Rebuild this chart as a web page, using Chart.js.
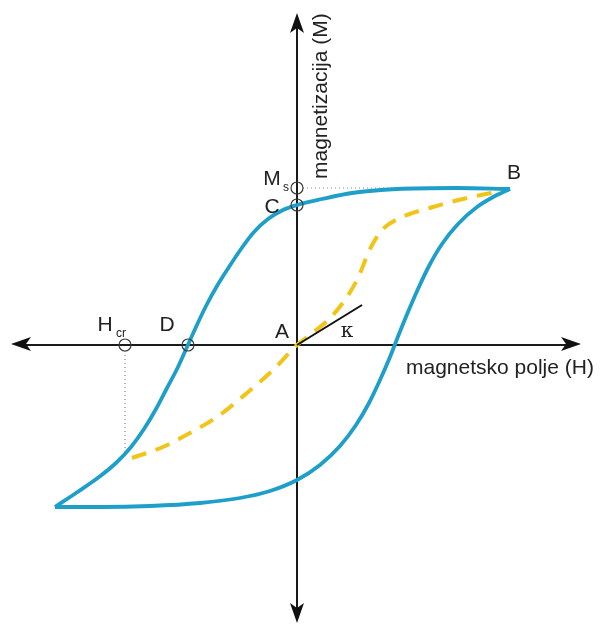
<!DOCTYPE html>
<html>
<head>
<meta charset="utf-8">
<script src="https://cdn.jsdelivr.net/npm/chart.js@4"></script>
<style>
  html, body { margin: 0; padding: 0; background: #fff; }
  #wrap { width: 603px; height: 627px; }
</style>
</head>
<body>
<div id="wrap"><canvas id="chart"></canvas></div>
<script>
// units: one unit = one pixel, origin A where the axes cross
const loopDownX = [213, 160, 100, 55, 25, 0, -14, -29, -43, -56, -68, -80, -91, -101, -110, -119, -130, -141, -153, -166, -181, -198, -218, -242];
const loopDownY = [156, 157, 156, 152, 146, 140, 135, 126, 113, 96, 78, 59, 39, 18, -2, -22, -43, -64, -84, -102, -118, -132, -146, -162];
const loopUpX = [-242, -197, -147, -97, -57, -27, 0, 23, 43, 59, 72, 83, 93, 102, 111, 121, 132, 145, 161, 180, 198, 213];
const loopUpY = [-162, -162, -161, -158, -153, -146, -135, -120, -101, -80, -58, -35, -12, 11, 33, 56, 79, 101, 121, 138, 149, 156];
const virginX = [-165, -134, -107, -80, -50, -24, 0, 10, 36, 60, 73, 85, 103, 136, 170, 210];
const virginY = [-113, -102, -88, -72, -48, -25, 0, 8, 30, 65, 96, 115, 127, 138, 147, 155];
const kappaX = [0, 65];
const kappaY = [0, 40];
const markX = [0, 0, -109, -172];   // Ms, C, D, Hcr
const markY = [157, 140, 0, 0];
const msDotX = [6, 208];
const msDotY = [157, 157];
const hcrDotX = [-172, -172];
const hcrDotY = [-6, -113];
const axisHX = [-280, 278];
const axisHY = [0, 0];
const axisVX = [0, 0];
const axisVY = [326, -272];
const arrowX = [-276, 274, 0, 0];
const arrowY = [1, 1, 322, -268];
const arrowRot = [180, 0, -90, 90];

const labels = [
  { t: 'B', x: 217, y: 172, size: 21 },
  { t: 'C', x: -25, y: 138, size: 21 },
  { t: 'M', x: -25, y: 166, size: 21 },
  { t: 's', x: -11, y: 157, size: 12 },
  { t: 'A', x: -15, y: 13, size: 21 },
  { t: 'D', x: -130, y: 20, size: 21 },
  { t: 'H', x: -192, y: 20, size: 21 },
  { t: 'cr', x: -176, y: 11, size: 12 },
  { t: 'κ', x: 50, y: 13, size: 20, font: 'DejaVu Serif' }
];

function pts(xs, ys) {
  return xs.map((x, i) => ({ x: x, y: ys[i] }));
}

// arrow head used as point style
const head = document.createElement('canvas');
head.width = 20;
head.height = 14;
const hc = head.getContext('2d');
hc.fillStyle = '#111';
hc.beginPath();
hc.moveTo(20, 7);
hc.lineTo(0, 0);
hc.lineTo(5, 7);
hc.lineTo(0, 14);
hc.closePath();
hc.fill();

const textPlugin = {
  id: 'texts',
  afterDatasetsDraw(chart) {
    const ctx = chart.ctx;
    const sx = chart.scales.x, sy = chart.scales.y;
    ctx.save();
    ctx.fillStyle = '#222';
    ctx.textAlign = 'center';
    ctx.textBaseline = 'middle';
    labels.forEach(l => {
      ctx.font = l.size + 'px ' + (l.font || '"Liberation Sans", Arial, sans-serif');
      ctx.fillText(l.t, sx.getPixelForValue(l.x), sy.getPixelForValue(l.y));
    });
    ctx.font = '21px "Liberation Sans", Arial, sans-serif';
    ctx.textAlign = 'left';
    ctx.fillText('magnetsko polje (H)', sx.getPixelForValue(109), sy.getPixelForValue(-23));
    ctx.translate(sx.getPixelForValue(24), sy.getPixelForValue(166));
    ctx.rotate(-Math.PI / 2);
    ctx.fillText('magnetizacija (M)', 0, 0);
    ctx.restore();
  }
};

const blue = '#1d9fca';
const ctx = document.getElementById('chart').getContext('2d');
new Chart(ctx, {
  type: 'line',
  data: {
    datasets: [
      {
        data: pts(markX, markY), showLine: false,
        pointStyle: 'circle', pointRadius: 6, pointBorderColor: '#3a3a3a',
        pointBackgroundColor: 'rgba(0,0,0,0)', pointBorderWidth: 1.2, order: 0
      },
      {
        data: pts(arrowX, arrowY), showLine: false,
        pointStyle: head, pointRotation: arrowRot, order: 1
      },
      {
        data: pts(kappaX, kappaY), borderColor: '#111', borderWidth: 2,
        pointRadius: 0, order: 2
      },
      {
        data: pts(axisHX, axisHY), borderColor: '#1a1a1a', borderWidth: 2,
        pointRadius: 0, order: 5
      },
      {
        data: pts(axisVX, axisVY), borderColor: '#1a1a1a', borderWidth: 2,
        pointRadius: 0, order: 5
      },
      {
        data: pts(loopDownX, loopDownY), borderColor: blue, borderWidth: 3.8,
        cubicInterpolationMode: 'monotone', pointRadius: 0, order: 3
      },
      {
        data: pts(loopUpX, loopUpY), borderColor: blue, borderWidth: 3.8,
        cubicInterpolationMode: 'monotone', pointRadius: 0, order: 3
      },
      {
        data: pts(virginX, virginY), borderColor: '#f2c418', borderWidth: 4,
        borderDash: [15, 10], cubicInterpolationMode: 'monotone', pointRadius: 0, order: 4
      },
      {
        data: pts(msDotX, msDotY), borderColor: '#8a8a8a', borderWidth: 1.2,
        borderDash: [1, 3], pointRadius: 0, order: 6
      },
      {
        data: pts(hcrDotX, hcrDotY), borderColor: '#8a8a8a', borderWidth: 1.2,
        borderDash: [1, 3], pointRadius: 0, order: 6
      }
    ]
  },
  options: {
    responsive: true,
    maintainAspectRatio: false,
    animation: false,
    events: [],
    layout: { padding: 0, autoPadding: false },
    plugins: { legend: { display: false }, tooltip: { enabled: false } },
    scales: {
      x: { type: 'linear', min: -297, max: 306, display: false },
      y: { type: 'linear', min: -282, max: 345, display: false }
    }
  },
  plugins: [textPlugin]
});
</script>
</body>
</html>
